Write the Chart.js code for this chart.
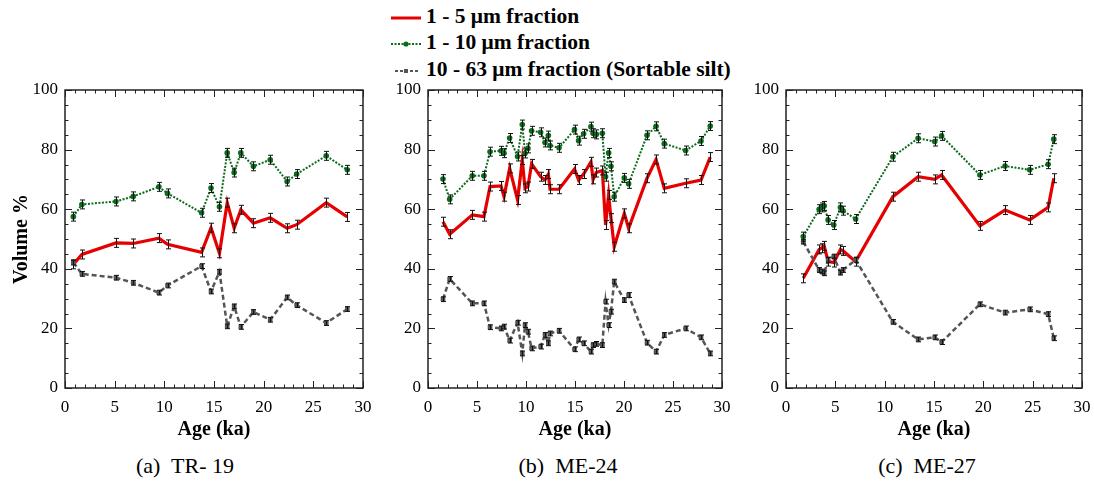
<!DOCTYPE html>
<html>
<head>
<meta charset="utf-8">
<script src="https://cdn.jsdelivr.net/npm/chart.js@4/dist/chart.umd.min.js"></script>
<style>
  body { margin: 0; background: #fff; width: 1094px; height: 482px; position: relative; overflow: hidden;
         font-family: 'Liberation Serif', 'Times New Roman', serif; }
  .panel { position: absolute; top: 80px; height: 363px; }
  .legend { position: absolute; left: 390px; top: 3px; font-weight: bold; font-size: 21.5px; }
  .legend div { height: 26.3px; line-height: 26px; white-space: nowrap; }
  .legend svg { vertical-align: middle; margin-right: 4px; }
  .caption { position: absolute; top: 453px; font-size: 22px; width: 200px; text-align: center; white-space: pre; }
</style>
</head>
<body>
<div class="legend">
  <div><svg width="32" height="10"><line x1="1" y1="5" x2="31" y2="5" stroke="#e60000" stroke-width="3"/></svg>1 - 5 &mu;m fraction</div>
  <div><svg width="32" height="10"><line x1="1" y1="5" x2="31" y2="5" stroke="#0b6b1c" stroke-width="2" stroke-dasharray="2,1.5"/><circle cx="16" cy="5" r="2.6" fill="#0b6b1c"/></svg>1 - 10 &mu;m fraction</div>
  <div><svg width="32" height="10"><line x1="5" y1="5" x2="28" y2="5" stroke="#555" stroke-width="2" stroke-dasharray="3,2"/><rect x="14" y="3" width="4" height="4" fill="#555"/></svg>10 - 63 &mu;m fraction (Sortable silt)</div>
</div>

<div class="panel" style="left:0px;width:375px"><canvas id="chartA" width="375" height="363"></canvas></div>
<div class="panel" style="left:363px;width:371px"><canvas id="chartB" width="371" height="363"></canvas></div>
<div class="panel" style="left:721px;width:373px"><canvas id="chartC" width="373" height="363"></canvas></div>

<div class="caption" style="left:85px">(a)  TR- 19</div>
<div class="caption" style="left:468px">(b)  ME-24</div>
<div class="caption" style="left:827px">(c)  ME-27</div>

<script>
// ---- data ----
const xTicks = [0, 5, 10, 15, 20, 25, 30];
const yTicks = [0, 20, 40, 60, 80, 100];

// TR-19
const ageA   = [0.84, 1.7, 5.13, 6.87, 9.45, 10.32, 13.75, 14.7, 15.55, 16.33, 17.03, 17.7, 18.97, 20.66, 22.36, 23.32, 26.3, 28.42];
const fineA  = [41.5, 44.8, 48.7, 48.5, 50.3, 48.2, 45.5, 53.8, 45.2, 62.2, 53.6, 59.8, 55.3, 57.1, 53.6, 54.8, 62.2, 57.4];
const midA   = [57.5, 61.6, 62.6, 64.3, 67.5, 65.3, 58.8, 67.1, 60.8, 78.9, 72.3, 78.9, 74.4, 76.6, 69.3, 71.8, 77.9, 73.2];
const siltA  = [42.1, 38.3, 37.0, 35.3, 32.0, 34.4, 40.9, 32.4, 39.0, 20.7, 27.4, 20.5, 25.5, 22.9, 30.4, 27.8, 21.8, 26.5];

// ME-24
const ageB   = [1.53, 2.21, 4.52, 5.71, 6.33, 7.45, 7.76, 8.33, 9.14, 9.62, 9.9, 10.2, 10.57, 11.49, 11.94, 12.28, 12.45, 13.37,
                14.95, 15.37, 15.88, 16.63, 16.84, 17.17, 17.79, 18.12, 18.43, 18.67, 19.0, 20.03, 20.47, 22.35, 23.27, 24.11, 26.29, 27.86, 28.8];
const fineB  = [55.8, 51.6, 58.1, 57.5, 67.6, 67.8, 64.2, 73.7, 63.1, 76.5, 67.0, 67.6, 75.2, 70.9, 69.8, 71.8, 66.7, 66.7,
                73.5, 69.8, 71.8, 75.9, 70.0, 72.3, 73.0, 54.7, 64.8, 57.0, 47.4, 58.6, 53.6, 70.4, 76.7, 67.0, 68.7, 69.8, 77.5];
const midB   = [70.1, 63.3, 71.2, 71.2, 79.3, 79.6, 78.8, 83.9, 77.7, 88.4, 78.7, 80.4, 86.3, 85.8, 82.4, 84.7, 81.4, 80.6,
                86.7, 83.0, 85.3, 87.7, 85.5, 85.1, 85.5, 70.9, 78.9, 74.4, 64.2, 70.5, 68.5, 84.8, 87.8, 82.0, 79.7, 82.9, 87.9];
const siltB  = [29.8, 36.6, 28.4, 28.4, 20.4, 20.0, 20.6, 15.9, 21.9, 11.6, 21.1, 18.9, 13.3, 13.9, 17.8, 15.0, 18.3, 19.2,
                13.0, 16.3, 15.0, 12.2, 14.4, 14.8, 14.4, 29.0, 21.1, 25.6, 35.7, 29.5, 31.2, 15.2, 12.2, 17.8, 20.0, 17.0, 11.6];

// ME-27
const ageC   = [1.75, 3.36, 3.6, 3.87, 4.27, 4.84, 5.52, 5.78, 7.06, 10.83, 13.39, 15.07, 15.77, 19.65, 22.2, 24.69, 26.57, 27.14];
const fineC  = [36.8, 46.5, 46.9, 47.7, 42.4, 42.1, 46.5, 46.0, 42.4, 64.2, 70.9, 70.0, 71.5, 54.4, 59.7, 56.4, 60.6, 70.4];
const midC   = [50.8, 60.0, 60.6, 61.1, 56.4, 54.7, 60.6, 59.5, 56.7, 77.6, 83.8, 82.7, 84.6, 71.5, 74.5, 73.2, 75.1, 83.5];
const siltC  = [49.1, 39.6, 39.1, 38.5, 43.0, 44.1, 38.7, 39.6, 43.0, 22.2, 16.3, 17.0, 15.4, 28.1, 25.3, 26.4, 24.8, 16.7];

// error bar half widths (volume %)
const errFine = 1.5;
const errMid = 1.5;
const errSilt = 0.8;

Chart.defaults.font.family = "'Liberation Serif', 'Times New Roman', serif";
Chart.defaults.color = '#000';

function pts(xs, ys) {
    return xs.map((x, i) => ({x: x, y: ys[i]}));
}

const errorBars = {
    id: 'errorBars',
    afterDatasetsDraw(chart) {
        const ctx = chart.ctx;
        const xs = chart.scales.x, ys = chart.scales.y;
        ctx.save();
        ctx.strokeStyle = '#111';
        ctx.lineWidth = 1;
        chart.data.datasets.forEach((ds) => {
            if (!ds.err) return;
            ds.data.forEach((p) => {
                const x = Math.round(xs.getPixelForValue(p.x)) + 0.5;
                const y1 = ys.getPixelForValue(p.y - ds.err);
                const y2 = ys.getPixelForValue(p.y + ds.err);
                ctx.beginPath();
                ctx.moveTo(x, y1); ctx.lineTo(x, y2);
                ctx.moveTo(x - 2.5, y1); ctx.lineTo(x + 2.5, y1);
                ctx.moveTo(x - 2.5, y2); ctx.lineTo(x + 2.5, y2);
                ctx.stroke();
            });
        });
        ctx.restore();
    }
};

// box with inward ticks on all four sides
const frame = {
    id: 'frame',
    afterDraw(chart) {
        const ctx = chart.ctx;
        const a = chart.chartArea;
        const xs = chart.scales.x, ys = chart.scales.y;
        ctx.save();
        ctx.strokeStyle = '#222';
        ctx.lineWidth = 1.5;
        ctx.strokeRect(a.left, a.top, a.right - a.left, a.bottom - a.top);
        ctx.lineWidth = 1;
        ctx.beginPath();
        for (let v = 0; v <= 30; v++) {
            const px = Math.round(xs.getPixelForValue(v)) + 0.5;
            const len = v % 5 === 0 ? 7 : 3.5;
            ctx.moveTo(px, a.bottom); ctx.lineTo(px, a.bottom - len);
            ctx.moveTo(px, a.top); ctx.lineTo(px, a.top + len);
        }
        for (let v = 0; v <= 100; v += 5) {
            const py = Math.round(ys.getPixelForValue(v)) + 0.5;
            const len = v % 20 === 0 ? 7 : 3.5;
            ctx.moveTo(a.left, py); ctx.lineTo(a.left + len, py);
            ctx.moveTo(a.right, py); ctx.lineTo(a.right - len, py);
        }
        ctx.stroke();
        ctx.restore();
    }
};

function makePanel(id, ages, fine, mid, silt, showYTitle) {
    const config = {
        type: 'line',
        data: {
            datasets: [
                {
                    label: '10 - 63 \u00b5m fraction (Sortable silt)',
                    data: pts(ages, silt),
                    err: errSilt,
                    borderColor: '#555',
                    backgroundColor: '#555',
                    borderWidth: 2.5,
                    borderDash: [5, 3],
                    pointStyle: 'rect',
                    pointRadius: 3.3,
                    pointBorderWidth: 0,
                    tension: 0
                },
                {
                    label: '1 - 10 \u00b5m fraction',
                    data: pts(ages, mid),
                    err: errMid,
                    borderColor: '#0b6b1c',
                    backgroundColor: '#0b6b1c',
                    borderWidth: 2,
                    borderDash: [2, 1.5],
                    pointRadius: 2.8,
                    pointBorderWidth: 0,
                    tension: 0
                },
                {
                    label: '1 - 5 \u00b5m fraction',
                    data: pts(ages, fine),
                    err: errFine,
                    borderColor: '#e60000',
                    backgroundColor: '#e60000',
                    borderWidth: 3.2,
                    pointRadius: 0,
                    tension: 0
                }
            ]
        },
        options: {
            responsive: false,
            animation: false,
            layout: { padding: { top: 10, right: 12, left: 0, bottom: 0 } },
            plugins: { legend: { display: false }, tooltip: { enabled: false } },
            scales: {
                x: {
                    type: 'linear',
                    min: xTicks[0],
                    max: xTicks[xTicks.length - 1],
                    afterBuildTicks: (s) => { s.ticks = xTicks.map((v) => ({value: v})); },
                    afterFit: (s) => { s.height = 55; s.paddingLeft = 0; s.paddingRight = 0; },
                    ticks: { font: { size: 17 }, padding: 9, maxRotation: 0 },
                    grid: { display: false, drawTicks: false },
                    border: { display: false },
                    title: { display: true, text: 'Age (ka)', font: { size: 20, weight: 'bold' }, padding: { top: 0, bottom: 1 } }
                },
                y: {
                    min: yTicks[0],
                    max: yTicks[yTicks.length - 1],
                    afterBuildTicks: (s) => { s.ticks = yTicks.map((v) => ({value: v})); },
                    afterFit: (s) => { s.width = 65; s.paddingTop = 0; s.paddingBottom = 0; },
                    ticks: { font: { size: 17 }, padding: 7 },
                    grid: { display: false, drawTicks: false },
                    border: { display: false },
                    title: { display: showYTitle, text: 'Volume %', font: { size: 20, weight: 'bold' }, padding: { top: 10, bottom: 0 } }
                }
            }
        },
        plugins: [errorBars, frame]
    };
    return new Chart(document.getElementById(id), config);
}

makePanel('chartA', ageA, fineA, midA, siltA, true);
makePanel('chartB', ageB, fineB, midB, siltB, false);
makePanel('chartC', ageC, fineC, midC, siltC, false);
</script>
</body>
</html>
